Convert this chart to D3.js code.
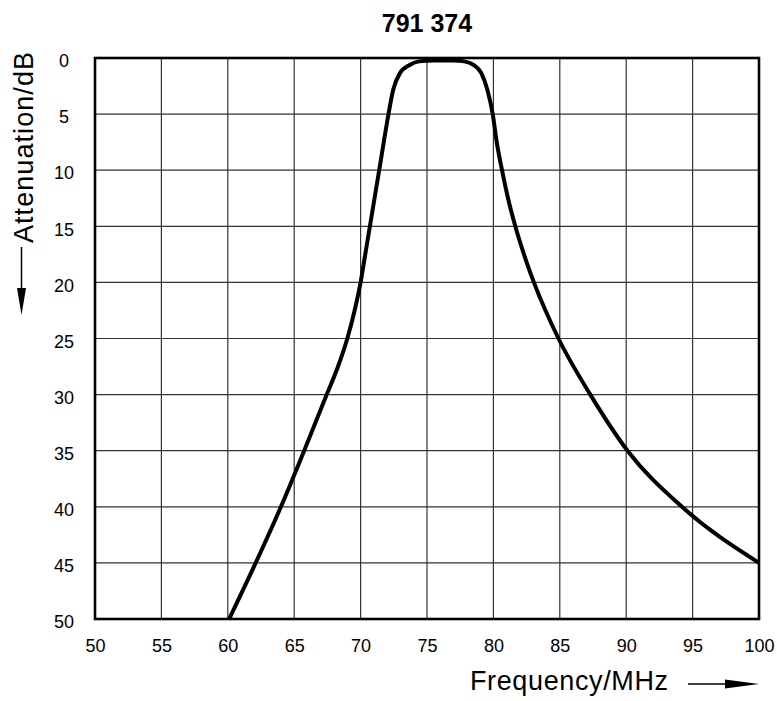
<!DOCTYPE html>
<meta charset="utf-8">
<style>
    body {
        margin: 0;
        font-family: Arial, "Liberation Sans", Helvetica, sans-serif;
        background: #fff;
    }

    .grid line {
        stroke: #333;
        stroke-width: 1.2px;
    }

    .tick text {
        font-size: 18px;
        font-family: Arial, "Liberation Sans", Helvetica, sans-serif;
        fill: #000;
    }

    path.curve {
        fill: none;
        stroke: #000;
        stroke-width: 4px;
        stroke-linejoin: round;
    }
</style>

<body>
    <script src="https://d3js.org/d3.v7.min.js"></script>
    <script>

        // response of the filter
        var freq = [60.1, 62.1, 64.0, 65.75, 67.45, 68.3, 69.0, 69.55, 70.0, 70.35, 70.7, 71.4, 72.1, 72.45, 72.95, 73.7, 74.4,
            75.5, 77.0, 77.8, 78.5, 79.1, 79.55, 79.95, 80.25, 80.65, 81.1, 81.65, 82.3, 83.05, 84.9, 87.3, 90.1, 94.2, 100];
        var atten = [50, 45, 40, 35, 30, 27.5, 25, 22.5, 20, 17.5, 15, 10, 5, 2.85, 1.37, 0.62, 0.3,
            0.22, 0.22, 0.3, 0.62, 1.37, 2.85, 5, 7.5, 10, 12.5, 15, 17.5, 20, 25, 30, 35, 40, 45];

        var xTicks = [50, 55, 60, 65, 70, 75, 80, 85, 90, 95, 100];
        var yTicks = [0, 5, 10, 15, 20, 25, 30, 35, 40, 45, 50];

        var width = 777,
            height = 701;
        var pLeft = 95, pRight = 759, pTop = 58, pBottom = 619;

        var svg = d3.select("body").append("svg")
            .attr("width", width)
            .attr("height", height);

        var x = d3.scaleLinear().domain([50, 100]).range([pLeft, pRight]);
        var y = d3.scaleLinear().domain([0, 50]).range([pTop, pBottom]);

        /* ------- GRID -------*/
        var grid = svg.append("g").attr("class", "grid");
        grid.selectAll("line.v")
            .data(xTicks)
            .enter().append("line")
            .attr("class", "v")
            .attr("x1", function (d) { return x(d); })
            .attr("x2", function (d) { return x(d); })
            .attr("y1", pTop)
            .attr("y2", pBottom);
        grid.selectAll("line.h")
            .data(yTicks)
            .enter().append("line")
            .attr("class", "h")
            .attr("x1", pLeft)
            .attr("x2", pRight)
            .attr("y1", function (d) { return y(d); })
            .attr("y2", function (d) { return y(d); });

        /* ------- AXES -------*/
        var xAxis = svg.append("g")
            .attr("transform", "translate(0," + pBottom + ")")
            .call(d3.axisBottom(x).tickValues(xTicks).tickSize(0).tickPadding(33));
        xAxis.select(".domain").remove();
        xAxis.selectAll("text").attr("dy", 0);

        var yAxis = svg.append("g")
            .attr("transform", "translate(" + pLeft + ",0)")
            .call(d3.axisLeft(y).tickValues(yTicks).tickSize(0));
        yAxis.select(".domain").remove();
        yAxis.selectAll("text")
            .attr("x", -31)
            .attr("dy", 8.7)
            .attr("text-anchor", "middle");

        /* ------- CURVE -------*/
        var pts = freq.map(function (f, i) { return [f, atten[i]]; });
        var line = d3.line()
            .x(function (d) { return x(d[0]); })
            .y(function (d) { return y(d[1]); })
            .curve(d3.curveMonotoneX);

        svg.append("path")
            .datum(pts)
            .attr("class", "curve")
            .attr("d", line);

        // frame
        svg.append("rect")
            .attr("x", pLeft)
            .attr("y", pTop)
            .attr("width", pRight - pLeft)
            .attr("height", pBottom - pTop)
            .attr("fill", "none")
            .attr("stroke", "#000")
            .attr("stroke-width", 2.6);

        /* ------- LABELS -------*/
        svg.append("text")
            .attr("x", (pLeft + pRight) / 2)
            .attr("y", 32)
            .attr("text-anchor", "middle")
            .style("font-size", "25px")
            .style("font-weight", "bold")
            .text("791 374");

        svg.append("text")
            .attr("x", 470)
            .attr("y", 690)
            .attr("textLength", 198)
            .style("font-size", "27px")
            .text("Frequency/MHz");

        svg.append("text")
            .attr("transform", "translate(33,243) rotate(-90)")
            .attr("textLength", 191)
            .style("font-size", "27px")
            .text("Attenuation/dB");

        // arrows
        svg.append("line")
            .attr("x1", 688).attr("x2", 730)
            .attr("y1", 684).attr("y2", 684)
            .attr("stroke", "#000").attr("stroke-width", 1.5);
        svg.append("path")
            .attr("d", "M725,679.5 L759,684 L725,688.5 Z")
            .attr("fill", "#000");

        svg.append("line")
            .attr("x1", 21.5).attr("x2", 21.5)
            .attr("y1", 247).attr("y2", 292)
            .attr("stroke", "#000").attr("stroke-width", 1.5);
        svg.append("path")
            .attr("d", "M17,288 L21.5,315 L26,288 Z")
            .attr("fill", "#000");

    </script>
</body>
